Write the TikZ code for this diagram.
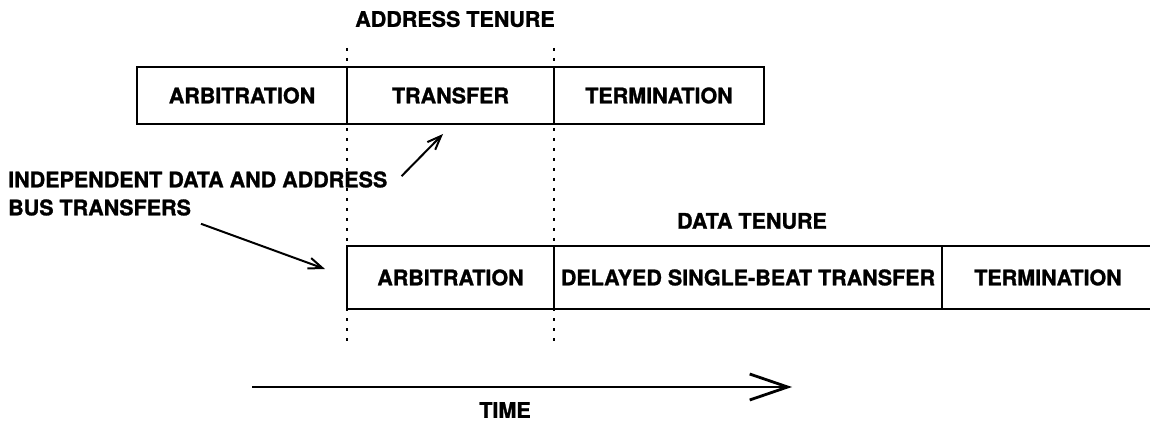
\documentclass[tikz,border=0pt]{standalone}
\usepackage{fontspec}
\setmainfont{TeX Gyre Heros}[BoldFeatures={FakeBold=1.2}]
\usetikzlibrary{arrows.meta, positioning}

\begin{document}
\begin{tikzpicture}[
    x=1pt, y=1pt,
    font=\fontsize{21.5}{28}\selectfont\bfseries,
    cell/.style={rectangle, draw, line width=1.8pt, inner sep=0pt, outer sep=0pt, minimum height=57pt},
    dcell/.style={cell, minimum height=63pt},
    tag/.style={inner sep=0pt},
    guide/.style={line width=2.6pt, dash pattern=on 3pt off 7pt},
    arrow/.style={-{Straight Barb[length=14pt,width=11pt]}, line width=2pt},
    timearrow/.style={-{Straight Barb[length=38pt,width=26pt]}, line width=2.8pt}
]
\useasboundingbox (0,0) rectangle (1150,423);
\clip (0,0) rectangle (1150,423);

% address tenure
\node[cell, minimum width=210pt] (aarb) at (242,327.5) {ARBITRATION};
\node[cell, minimum width=207pt, right=0pt of aarb] (atrans) {TRANSFER};
\node[cell, minimum width=210pt, right=0pt of atrans] (aterm) {TERMINATION};
\node[tag] (atenure) at (455,404) {ADDRESS TENURE};

% data tenure
\node[dcell, minimum width=207pt] (darb) at (450.5,145.5) {ARBITRATION};
\node[dcell, minimum width=388pt, right=0pt of darb] (ddelay) {DELAYED SINGLE-BEAT TRANSFER};
\node[dcell, minimum width=212pt, right=0pt of ddelay] (dterm) {TERMINATION};
\node[tag] (dtenure) at (752,202) {DATA TENURE};

% dotted guides
\draw[guide] (aarb.east |- 0,375) -- (aarb.east |- 0,78);
\draw[guide] (atrans.east |- 0,375) -- (atrans.east |- 0,78);

% note and pointers
\node[tag, anchor=west, align=left] (note) at (8,229.5) {INDEPENDENT DATA AND ADDRESS\\BUS TRANSFERS};
\coordinate (tip1) at (443,289);
\coordinate (tip2) at (325,154);
\draw[arrow] ([xshift=14pt,yshift=-5pt]note.north east) -- (tip1);
\draw[arrow] ([xshift=193pt,yshift=-8pt]note.south west) -- (tip2);

% time axis
\coordinate (t0) at (252,36);
\coordinate (t1) at (792,36);
\draw[timearrow] (t0) -- (t1);
\node[tag] (time) at (505,13) {TIME};

\end{tikzpicture}
\end{document}
